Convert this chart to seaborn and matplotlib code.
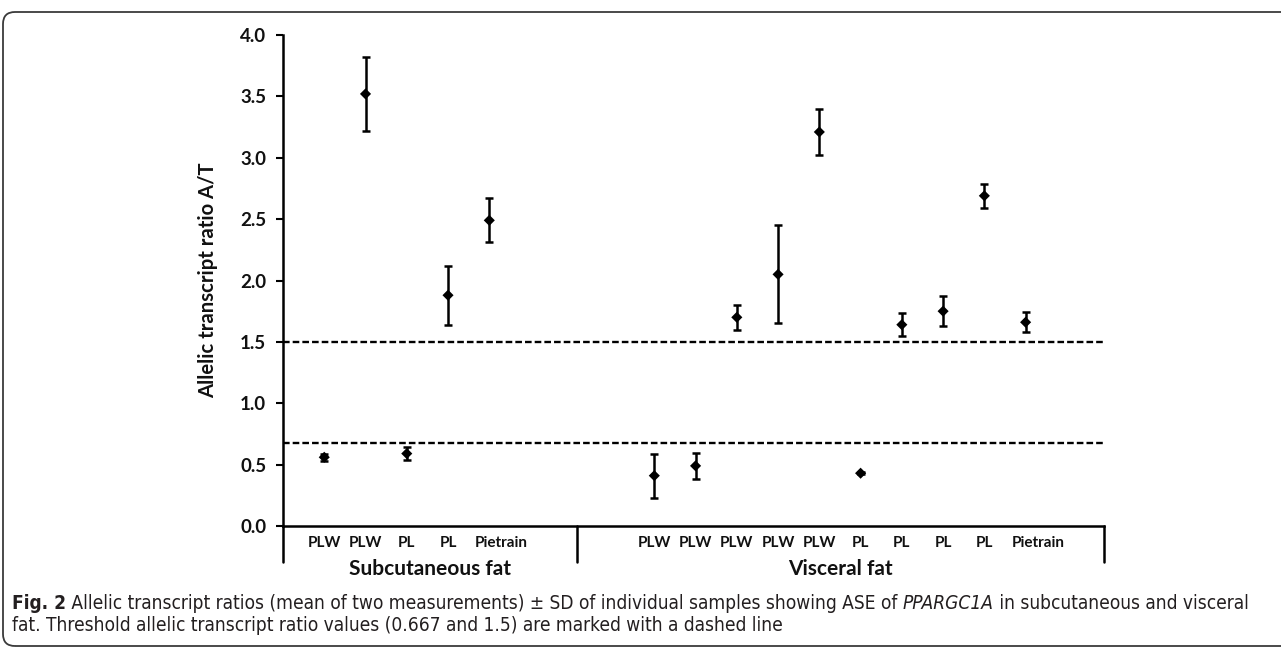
import numpy as np
import pandas as pd
import matplotlib
matplotlib.use("Agg")
import matplotlib.pyplot as plt
import matplotlib.transforms as mtrans
from matplotlib.patches import FancyBboxPatch
import seaborn as sns

# ---------------- data ----------------
subcut_breeds = ["PLW", "PLW", "PL", "PL", "Pietrain"]
subcut_mean = [0.56, 3.52, 0.59, 1.88, 2.49]
subcut_sd = [0.03, 0.30, 0.05, 0.24, 0.18]

visc_breeds = ["PLW", "PLW", "PLW", "PLW", "PLW", "PL", "PL", "PL", "PL", "Pietrain"]
visc_mean = [0.41, 0.49, 1.70, 2.05, 3.21, 0.43, 1.64, 1.75, 2.69, 1.66]
visc_sd = [0.18, 0.105, 0.10, 0.40, 0.19, 0.01, 0.095, 0.12, 0.10, 0.08]

group_names = ["Subcutaneous fat", "Visceral fat"]
thresholds = [0.68, 1.5]
y_ticks = [0.0, 0.5, 1.0, 1.5, 2.0, 2.5, 3.0, 3.5, 4.0]
y_label = "Allelic transcript ratio A/T"

caption_runs = [
    [("Fig. 2", "bold", "normal"),
     (" Allelic transcript ratios (mean of two measurements) ± SD of individual samples showing ASE of ", "normal", "normal"),
     ("PPARGC1A", "normal", "italic"),
     (" in subcutaneous and visceral", "normal", "normal")],
    [("fat. Threshold allelic transcript ratio values (0.667 and 1.5) are marked with a dashed line", "normal", "normal")],
]

# ---------------- layout ----------------
W, H, DPI = 1281, 649, 100
sns.set_style("ticks")
plt.rcParams["font.family"] = ["Lato", "DejaVu Sans"]

subcut_pos = 1 + np.arange(len(subcut_mean))
visc_pos = 9 + np.arange(len(visc_mean))
df = pd.DataFrame({
    "pos": np.concatenate([subcut_pos, visc_pos]),
    "mean": subcut_mean + visc_mean,
    "sd": subcut_sd + visc_sd,
    "breed": subcut_breeds + visc_breeds,
    "group": [group_names[0]] * len(subcut_mean) + [group_names[1]] * len(visc_mean),
})
x_lo, x_hi = 0.0, 19.9
bounds = [x_lo, 7.13, x_hi]

fig = plt.figure(figsize=(W / DPI, H / DPI), dpi=DPI)
ax_l, ax_r, ax_t, ax_b = 283, 1104, 35, 526
ax = fig.add_axes([ax_l / W, (H - ax_b) / H, (ax_r - ax_l) / W, (ax_b - ax_t) / H])
ax_h = ax_b - ax_t

ax.errorbar(df["pos"], df["mean"], yerr=df["sd"], fmt="none", ecolor="black",
            elinewidth=1.8, capsize=2.9, capthick=1.8, zorder=2)
sns.scatterplot(data=df, x="pos", y="mean", marker="D", color="black", s=32,
                edgecolor="none", ax=ax, zorder=3, legend=False)

for t in thresholds:
    ax.axhline(t, color="black", lw=1.7, ls=(0, (2.8, 1.3)), zorder=1)

ax.set_xlim(x_lo, x_hi)
ax.set_ylim(0, 4.0)
ax.set_yticks(y_ticks)
ax.set_yticklabels([f"{v:.1f}" for v in y_ticks], fontweight="bold", fontsize=13.5, color="#111111")
ax.tick_params(axis="y", direction="out", length=5, width=1.5, pad=7, color="black")
ax.set_xticks([])
ax.set_xlabel("")
ax.set_ylabel("")
for side in ["top", "right"]:
    ax.spines[side].set_visible(False)
for side in ["left", "bottom"]:
    ax.spines[side].set_linewidth(1.8)
    ax.spines[side].set_color("black")

blend = mtrans.blended_transform_factory(ax.transData, ax.transAxes)
for b in bounds:
    ax.plot([b, b], [0, -36 / ax_h], transform=blend, clip_on=False, color="black", lw=1.8)

renderer = fig.canvas.get_renderer()


def fit_width(text, target_w, horizontal=True):
    bb = text.get_window_extent(renderer)
    size = bb.width if horizontal else bb.height
    text.set_fontsize(text.get_fontsize() * target_w / size)


# category labels
for p, lab in zip(df["pos"], df["breed"]):
    off = 0.3 if lab == "Pietrain" else 0.0
    ax.text(p + off, -17 / ax_h, lab, transform=blend, ha="center", va="center",
            fontweight="bold", fontsize=11, color="#111111")

# group labels
for i, g in enumerate(group_names):
    ax.text((bounds[i] + bounds[i + 1]) / 2, -43 / ax_h, g, transform=blend, ha="center",
            va="center", fontweight="bold", fontsize=15, color="#111111")

# y label
yl = fig.text(208 / W, (H - (ax_t + ax_b) / 2) / H, y_label, rotation=90, ha="center",
              va="center", fontweight="bold", fontsize=14, color="#111111")
fit_width(yl, 237, horizontal=False)

# caption
cap_family = ["DejaVu Sans"]
cap_stretch = "condensed"
ident = mtrans.IdentityTransform()


def run_width(s, size, wgt, sty):
    probe = fig.text(0, 0, "|" + s + "|", transform=ident, fontsize=size, fontweight=wgt,
                     fontstyle=sty, family=cap_family, fontstretch=cap_stretch)
    bar = fig.text(0, 0, "||", transform=ident, fontsize=size, fontweight=wgt,
                   fontstyle=sty, family=cap_family, fontstretch=cap_stretch)
    w = probe.get_window_extent(renderer).width - bar.get_window_extent(renderer).width
    probe.remove()
    bar.remove()
    return w


def draw_runs(runs, x0, y, size):
    x = x0
    for s, wgt, sty in runs:
        fig.text(x, y, s, transform=ident, ha="left", va="baseline", fontsize=size,
                 fontweight=wgt, fontstyle=sty, family=cap_family, fontstretch=cap_stretch,
                 color="#231f20")
        x += run_width(s, size, wgt, sty)
    return x


base = 14.0
w1 = sum(run_width(s, base, wg, st) for s, wg, st in caption_runs[0])
cap_size = base * 1243 / w1

draw_runs(caption_runs[0], 12, H - 609, cap_size)
draw_runs(caption_runs[1], 12, H - 631, cap_size)

frame = FancyBboxPatch((3, 3), W + 40, H - 15, boxstyle="round,pad=0,rounding_size=12",
                       transform=ident, fill=False, lw=1.3, ec="#3a3a3a")
fig.add_artist(frame)

fig.savefig("out.png", dpi=DPI)
